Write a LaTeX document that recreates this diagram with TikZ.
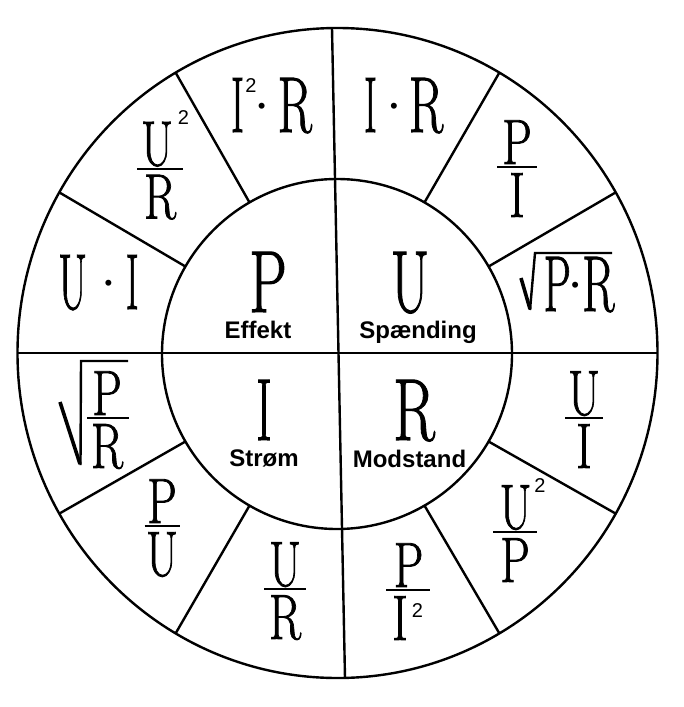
\documentclass[tikz,border=0pt]{standalone}
\usepackage{fontspec}
\usepackage{graphicx}
\usetikzlibrary{shapes.geometric}
\newfontfamily\sansf{Liberation Sans}
\newfontfamily\heavy{Latin Modern Roman}[FakeBold=1.4]
\newcommand\sx[2]{\scalebox{#1}[1]{#2}}
\newcommand\tw[1]{\raisebox{#1}{\fontsize{20}{20}\selectfont\sansf 2}}
\newcommand\dt{\makebox[0pt]{\raisebox{18.6pt}{\fontsize{22}{22}\selectfont\sansf •}}}
\tikzset{
  ln/.style={line width=2.4pt},
  fbar/.style={line width=2.2pt},
  rad/.style={line width=2.4pt, line join=miter},
  big/.style={inner sep=0pt, anchor=base, font=\heavy\fontsize{88}{88}\selectfont},
  ol/.style={inner sep=0pt, anchor=base, font=\heavy\fontsize{79}{79}\selectfont},
  fln/.style={inner sep=0pt, anchor=base, font=\heavy\fontsize{64}{64}\selectfont},
  fld/.style={inner sep=0pt, anchor=north, font=\heavy\fontsize{64}{64}\selectfont},
  word/.style={inner sep=0pt, anchor=base, font=\sansf\bfseries\fontsize{24}{24}\selectfont},
}
\begin{document}
\begin{tikzpicture}[x=1pt,y=-1pt]
\useasboundingbox (0,0) rectangle (684,707);
% rings
\node[ellipse, draw, ln, minimum width=640pt, minimum height=650pt, outer sep=0pt, inner sep=0pt] (outer) at (337.5,353) {};
\node[circle, draw, ln, minimum size=350pt, outer sep=0pt, inner sep=0pt] (inner) at (337,354) {};
\draw[ln] ([xshift=-5.5pt]outer.north) -- ([xshift=7.5pt]outer.south);
\draw[ln] (outer.west) -- (outer.east);
\foreach \a in {30,60,120,150,210,240,300,330} \draw[ln] (inner.\a) -- (outer.\a);
% inner quadrants
\node[big] (P) at (268,312) {\sx{0.68}{P}};
\node[big] (U) at (410,312) {\sx{0.63}{U}};
\node[big] (I) at (264,440) {\sx{0.53}{I}};
\node[big] (R) at (414,440) {\sx{0.7}{R}};
\node[word] (effekt) at (258,338) {Effekt};
\node[word] (spaending) at (418,338) {Spænding};
\node[word] (strom) at (264,466) {Strøm};
\node[word] (modstand) at (409.5,467) {Modstand};
% outer single-line labels
\node[ol] (IR) at (403.6,132) {\sx{0.5}{I}\kern17pt\dt\kern15pt\sx{0.64}{R}};
\node[ol] (I2R) at (271.5,132) {\sx{0.5}{I}\kern1.5pt\tw{40pt}\kern5pt\dt\kern16pt\sx{0.64}{R}};
\node[ol] (UI) at (98.6,309) {\sx{0.52}{U}\kern21.6pt\dt\kern17.4pt\sx{0.5}{I}};
\node[ol] (PR) at (579,311) {\sx{0.55}{P}\kern4.4pt\dt\kern7pt\sx{0.6}{R}};
\draw[line width=3.6pt] (521,278) -- (530,309);
\draw[rad] (530,310) -- (535,253) -- (612,253);
% fractions
% P/I
\node[fln] (PIn) at (517,164) {\sx{.74}{P}};
\node[fld] (PId) at (517,173) {\sx{.74}{I}};
\draw[fbar] (497,167) -- (537,167);
% U^2/R
\node[fln] (URn) at (157,165.6) {\sx{.72}{U}\rlap{\kern5pt\tw{41.5pt}}};
\node[fld] (URd) at (160,174.6) {\sx{.74}{R}};
\draw[fbar] (137,168.6) -- (183,168.6);
% U/I
\node[fln] (UIn) at (584,415) {\sx{.72}{U}};
\node[fld] (UId) at (584,424) {\sx{.74}{I}};
\draw[fbar] (565,418) -- (603,418);
% sqrt(P/R)
\node[fln] (PRn) at (107,415) {\sx{.74}{P}};
\node[fld] (PRd) at (107,424) {\sx{.74}{R}};
\draw[fbar] (87,418) -- (128.5,418);
\draw[line width=3.6pt] (60,402) -- (80,464);
\draw[rad] (80.5,465) -- (81,361) -- (128,361);
% U^2/P
\node[fln] (UPn) at (515.5,529) {\sx{.72}{U}\rlap{\kern3pt\tw{36.5pt}}};
\node[fld] (UPd) at (515,538) {\sx{.74}{P}};
\draw[fbar] (493,532) -- (537,532);
% P/U
\node[fln] (PUn) at (162,523) {\sx{.74}{P}};
\node[fld] (PUd) at (162,532) {\sx{.72}{U}};
\draw[fbar] (144.5,526) -- (179.5,526);
% P/I^2
\node[fln] (PI2n) at (408.5,587) {\sx{.74}{P}};
\node[fld] (PI2d) at (400,596) {\sx{.74}{I}\rlap{\kern4pt\tw{22.5pt}}};
\draw[fbar] (386,590) -- (430,590);
% U/R
\node[fln] (URbn) at (285,586) {\sx{.72}{U}};
\node[fld] (URbd) at (285,595) {\sx{.74}{R}};
\draw[fbar] (264,589) -- (306,589);
\end{tikzpicture}
\end{document}
